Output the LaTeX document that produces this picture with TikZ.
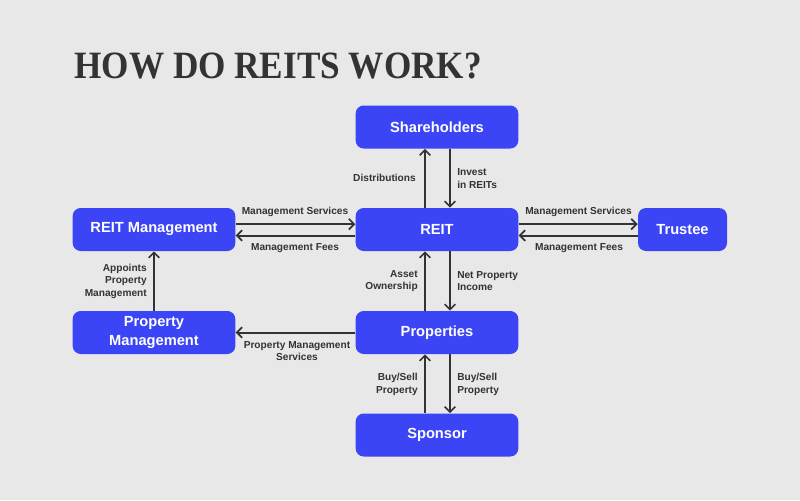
\documentclass[tikz,border=0pt]{standalone}
\usepackage{fontspec}
\setmainfont{Liberation Sans}
\newfontfamily\titlefont{Liberation Serif}
\usetikzlibrary{arrows.meta}
\definecolor{bg}{HTML}{E8E8E8}
\definecolor{boxblue}{HTML}{3B45F5}
\definecolor{ink}{HTML}{333333}
\begin{document}
\begin{tikzpicture}[x=0.75pt,y=-0.75pt,
  box/.style={draw=none,fill=boxblue,rounded corners=6pt,minimum height=32.25pt,
    text=white,font=\bfseries\fontsize{11}{14.2}\selectfont,align=center,inner sep=0pt},
  wbox/.style={box,minimum width=122pt},
  arr/.style={draw=ink,line width=1.5pt,-{Straight Barb[length=4pt,width=8pt,line width=1.3pt]}},
  lbl/.style={text=ink,font=\bfseries\fontsize{7.6}{9.4}\selectfont,inner sep=0pt}]
\fill[bg] (0,0) rectangle (800,500);
\useasboundingbox (0,0) rectangle (800,500);
\node[text=ink,anchor=base west,inner sep=0pt,font=\titlefont\bfseries\fontsize{29}{30}\selectfont] (title) at (74,78) {\scalebox{0.91}[1]{HOW DO REITS WORK?}};
\node[wbox] (share) at (437,127) {Shareholders};
\node[wbox] (reit) at (437,229.5) {REIT};
\node[wbox] (prop) at (437,332.5) {Properties};
\node[wbox] (spon) at (437,435) {Sponsor};
\node[wbox] (rm) at (154,229.5) {REIT Management};
\node[wbox] (pm) at (154,332.5) {Property\\Management};
\node[box,minimum width=66.75pt] (tr) at (682.5,229.5) {Trustee};
% vertical arrows
\draw[arr] ([xshift=-9pt]reit.north) -- ([xshift=-9pt]share.south);
\draw[arr] ([xshift=9.75pt]share.south) -- ([xshift=9.75pt]reit.north);
\draw[arr] ([xshift=-9pt]prop.north) -- ([xshift=-9pt]reit.south);
\draw[arr] ([xshift=9.75pt]reit.south) -- ([xshift=9.75pt]prop.north);
\draw[arr] ([xshift=-9pt]spon.north) -- ([xshift=-9pt]prop.south);
\draw[arr] ([xshift=9.75pt]prop.south) -- ([xshift=9.75pt]spon.north);
\draw[arr] (pm.north) -- (rm.south);
% horizontal arrows
\draw[arr] ([yshift=4pt]rm.east) -- ([yshift=4pt]reit.west);
\draw[arr] ([yshift=-4.5pt]reit.west) -- ([yshift=-4.5pt]rm.east);
\draw[arr] ([yshift=4pt]reit.east) -- ([yshift=4pt]tr.west);
\draw[arr] ([yshift=-4.5pt]tr.west) -- ([yshift=-4.5pt]reit.east);
\draw[arr] (prop.west) -- (pm.east);
% labels
\node[lbl,anchor=east] (l1) at (416,178) {Distributions};
\node[lbl,anchor=west,align=left] (l2) at (457,178.5) {Invest\\in REITs};
\node[lbl] (l3) at (295,212) {Management Services};
\node[lbl] (l4) at (295,248) {Management Fees};
\node[lbl] (l5) at (578.5,212) {Management Services};
\node[lbl] (l6) at (579,248) {Management Fees};
\node[lbl,anchor=east,align=right] (l7) at (418,281) {Asset\\Ownership};
\node[lbl,anchor=west,align=left] (l8) at (457,281) {Net Property\\Income};
\node[lbl,anchor=east,align=right] (l9) at (147,281) {Appoints\\Property\\Management};
\node[lbl,align=center] (l10) at (297,351) {Property Management\\Services};
\node[lbl,anchor=east,align=right] (l11) at (418,384.5) {Buy/Sell\\Property};
\node[lbl,anchor=west,align=left] (l12) at (457,384.5) {Buy/Sell\\Property};
\end{tikzpicture}
\end{document}
